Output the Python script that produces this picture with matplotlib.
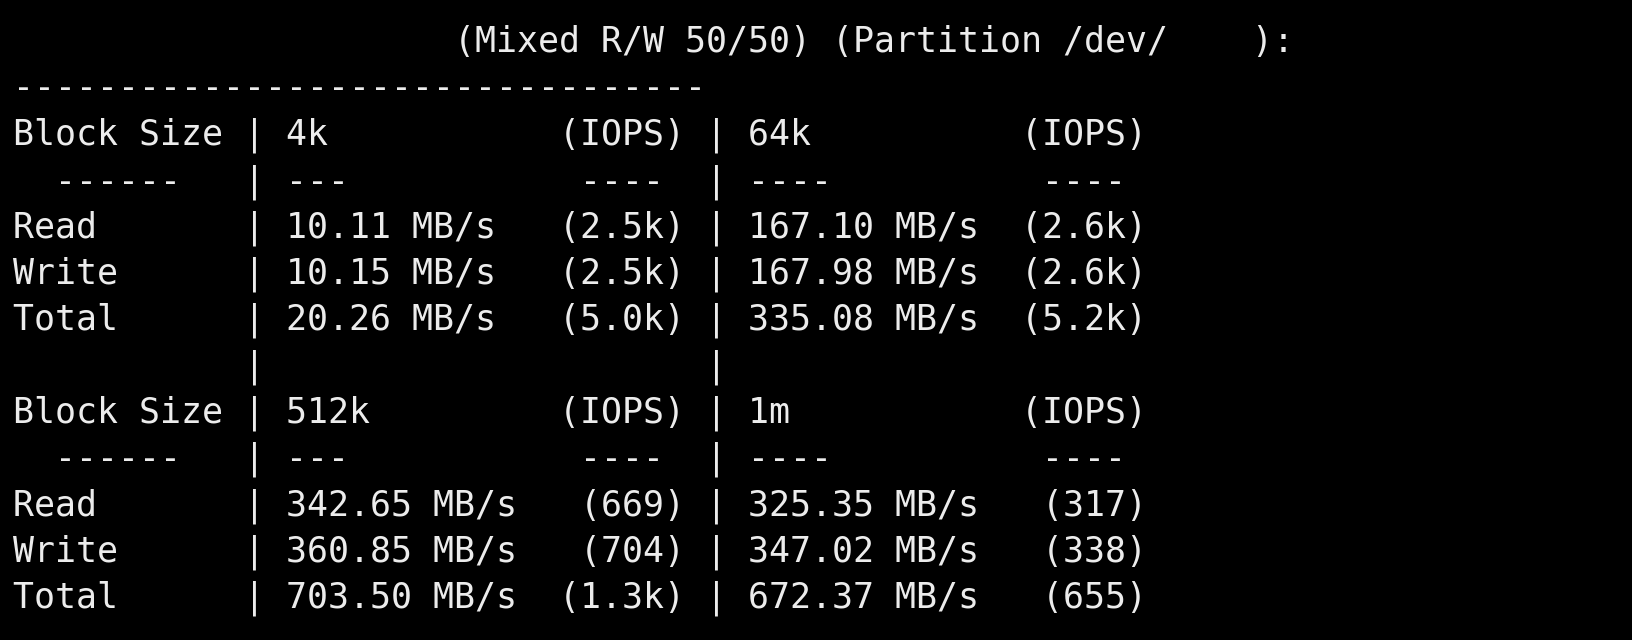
import matplotlib
matplotlib.use("Agg")
import matplotlib.pyplot as plt

title = "(Mixed R/W 50/50) (Partition /dev/    ):"
block_sizes = [["4k", "64k"], ["512k", "1m"]]
row_names = ["Read", "Write", "Total"]
mbps = [[[10.11, 167.10], [10.15, 167.98], [20.26, 335.08]],
        [[342.65, 325.35], [360.85, 347.02], [703.50, 672.37]]]
iops = [[["2.5k", "2.6k"], ["2.5k", "2.6k"], ["5.0k", "5.2k"]],
        [["669", "317"], ["704", "338"], ["1.3k", "655"]]]

lines = [" " * 21 + title, "-" * 33]
for g in range(2):
    a, b = block_sizes[g]
    lines.append(f"{'Block Size':<11}| {a:<13}(IOPS) | {b:<13}(IOPS)")
    lines.append(f"{'  ------':<11}| {'---':<14}----  | {'----':<14}----")
    for r in range(3):
        v1 = f"{mbps[g][r][0]:.2f} MB/s"
        v2 = f"{mbps[g][r][1]:.2f} MB/s"
        i1 = f"({iops[g][r][0]})"
        i2 = f"({iops[g][r][1]})"
        lines.append(f"{row_names[r]:<11}| {v1:<13}{i1:>6} | {v2:<13}{i2:>6}")
    if g == 0:
        lines.append(" " * 11 + "|" + " " * 21 + "|")

W, H = 1632, 640
fig = plt.figure(figsize=(W / 100, H / 100), dpi=100, facecolor="black")
ax = fig.add_axes([0, 0, 1, 1])
ax.set_facecolor("black")
ax.set_xlim(0, W)
ax.set_ylim(H, 0)
ax.axis("off")
for i, line in enumerate(lines):
    ax.text(13, 39.6 + 46.3 * i + 12.5, line, family="DejaVu Sans Mono",
            fontsize=25.1, color="#ececec", va="baseline", ha="left")
fig.savefig("out.png", dpi=100, facecolor="black")
